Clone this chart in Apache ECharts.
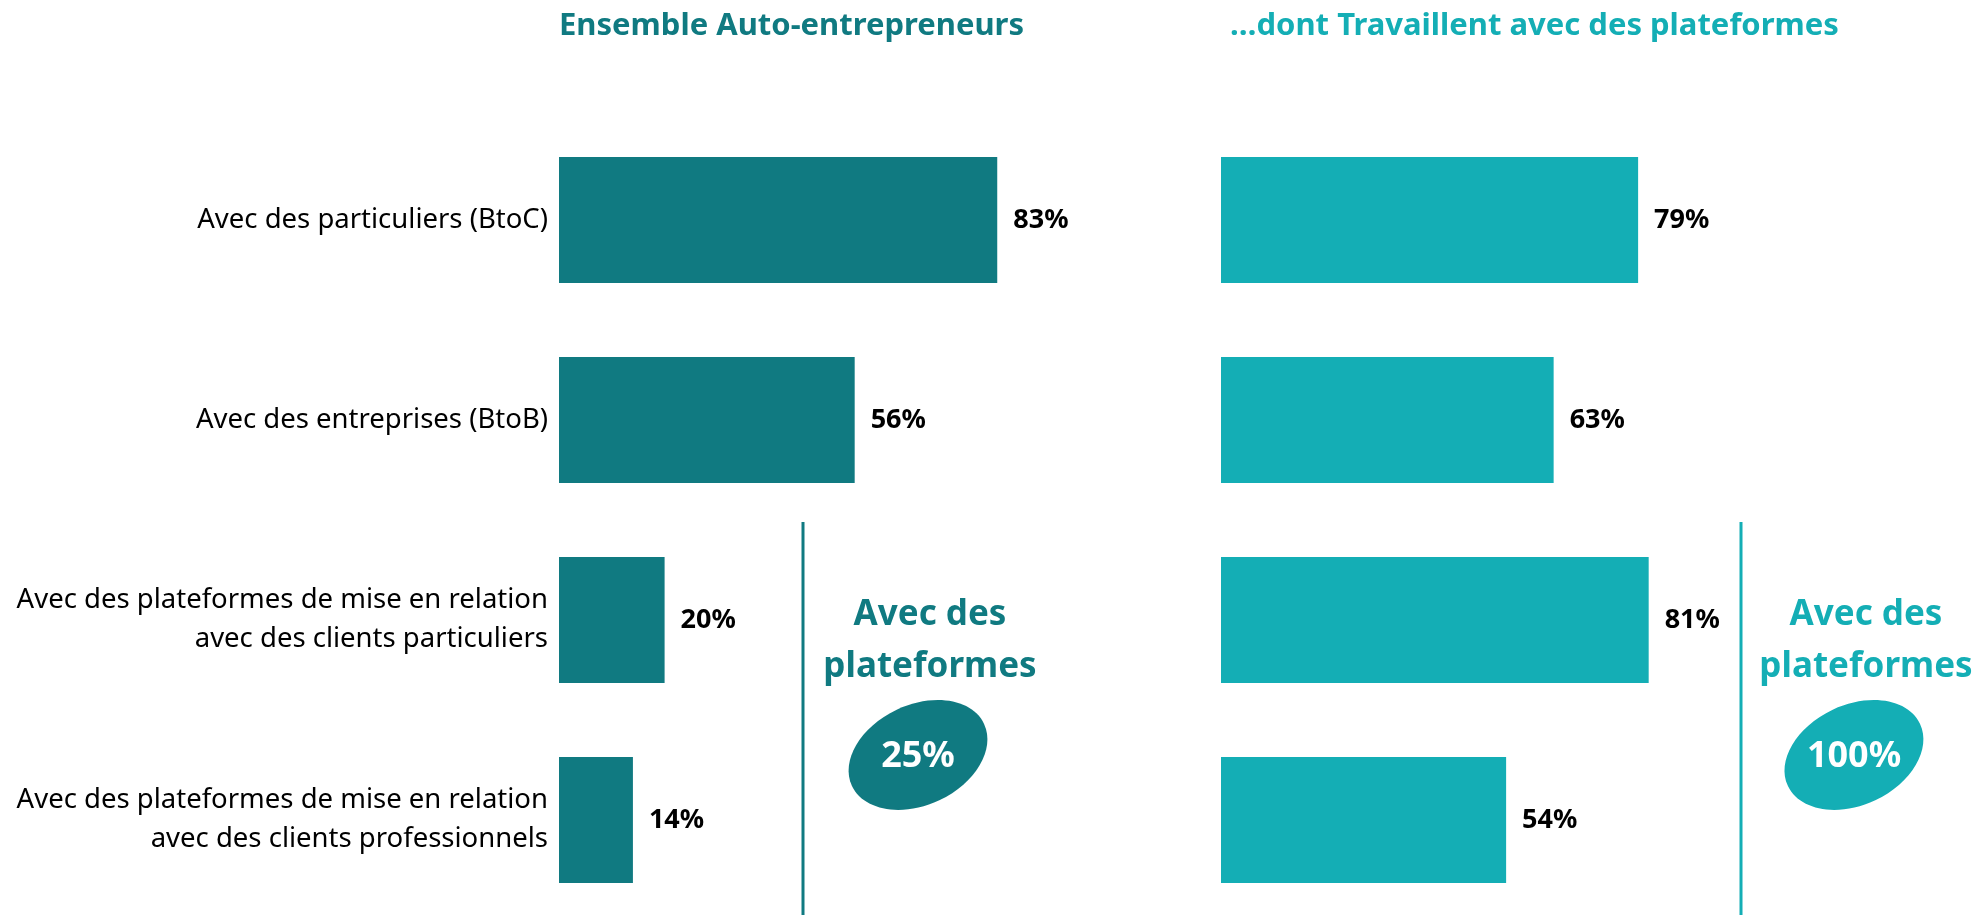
<!DOCTYPE html>
<html>
<head>
<meta charset="utf-8">
<title>Auto-entrepreneurs - clients</title>
<script src="https://cdn.jsdelivr.net/npm/echarts@6/dist/echarts.min.js"></script>
<style>
  html, body { margin: 0; padding: 0; background: #fff; }
  #chart { width: 1980px; height: 915px; }
</style>
</head>
<body>
<div id="chart"></div>
<script>
// données
const categories = [
  'Avec des particuliers (BtoC)',
  'Avec des entreprises (BtoB)',
  'Avec des plateformes de mise en relation\navec des clients particuliers',
  'Avec des plateformes de mise en relation\navec des clients professionnels'
];
const ensembleValues = [83, 56, 20, 14];
const plateformesValues = [79, 63, 81, 54];
const panelTitles = ['Ensemble Auto-entrepreneurs', '\u2026dont Travaillent avec des plateformes'];
const platformShare = ['25%', '100%'];

const DARK = '#107A81';
const LIGHT = '#14AEB5';
const FONT = '"Noto Sans", sans-serif';

const chart = echarts.init(document.getElementById('chart'), null, { renderer: 'canvas' });

function valueLabel() {
  return {
    show: true,
    position: 'right',
    distance: 16,
    formatter: '{c}%',
    color: '#000',
    fontFamily: FONT,
    fontWeight: 'bold',
    fontSize: 27
  };
}

// encart "Avec des plateformes" + ellipse
function sideNote(lineX, textX, color, share) {
  return [
    {
      type: 'line',
      shape: { x1: lineX, y1: 522, x2: lineX, y2: 915 },
      style: { stroke: color, lineWidth: 3 }
    },
    {
      type: 'text',
      x: textX, y: 641,
      style: {
        text: 'Avec des\nplateformes',
        fill: color,
        font: 'bold 35px "Noto Sans", sans-serif',
        align: 'center',
        verticalAlign: 'middle',
        lineHeight: 52
      }
    },
    {
      type: 'ellipse',
      x: textX - 12, y: 755,
      rotation: 0.44,
      shape: { cx: 0, cy: 0, rx: 73, ry: 50 },
      style: { fill: color }
    },
    {
      type: 'text',
      x: textX - 12, y: 757,
      style: {
        text: share,
        fill: '#fff',
        font: 'bold 36px "Noto Sans", sans-serif',
        align: 'center',
        verticalAlign: 'middle'
      }
    }
  ];
}

const option = {
  animation: false,
  backgroundColor: '#fff',
  title: [
    {
      text: panelTitles[0],
      left: 559, top: 11, padding: 0,
      textStyle: { color: DARK, fontFamily: FONT, fontWeight: 'bold', fontSize: 31 }
    },
    {
      text: panelTitles[1],
      left: 1230, top: 11, padding: 0,
      textStyle: { color: LIGHT, fontFamily: FONT, fontWeight: 'bold', fontSize: 31 }
    }
  ],
  grid: [
    { left: 559, top: 120, width: 528, height: 800, outerBoundsMode: 'none' },
    { left: 1221, top: 120, width: 528, height: 800, outerBoundsMode: 'none' }
  ],
  xAxis: [
    { gridIndex: 0, type: 'value', min: 0, max: 100, show: false },
    { gridIndex: 1, type: 'value', min: 0, max: 100, show: false }
  ],
  yAxis: [
    {
      gridIndex: 0,
      type: 'category',
      data: categories,
      inverse: true,
      axisLine: { show: false },
      axisTick: { show: false },
      axisLabel: {
        margin: 11,
        color: '#000',
        fontFamily: FONT,
        fontSize: 27.5,
        lineHeight: 39,
        align: 'right'
      }
    },
    {
      gridIndex: 1,
      type: 'category',
      data: categories,
      inverse: true,
      axisLine: { show: false },
      axisTick: { show: false },
      axisLabel: { show: false }
    }
  ],
  series: [
    {
      type: 'bar',
      xAxisIndex: 0, yAxisIndex: 0,
      data: ensembleValues,
      barWidth: 126,
      itemStyle: { color: DARK },
      label: valueLabel()
    },
    {
      type: 'bar',
      xAxisIndex: 1, yAxisIndex: 1,
      data: plateformesValues,
      barWidth: 126,
      itemStyle: { color: LIGHT },
      label: valueLabel()
    }
  ],
  graphic: sideNote(803, 930, DARK, platformShare[0]).concat(sideNote(1741, 1866, LIGHT, platformShare[1]))
};

chart.setOption(option);
</script>
</body>
</html>
